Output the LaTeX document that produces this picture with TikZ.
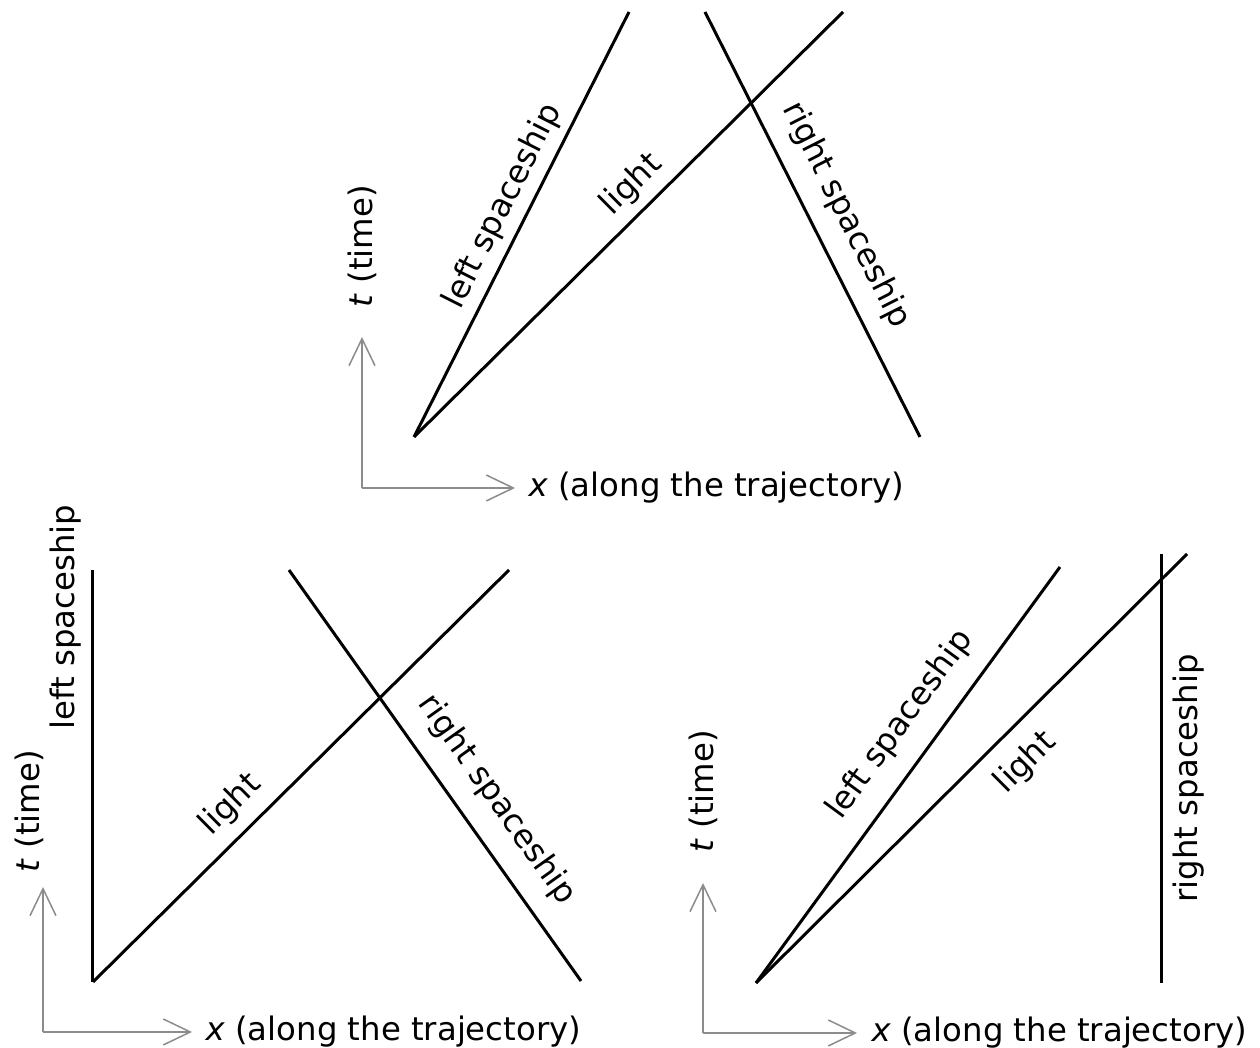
\documentclass[tikz,border=0pt]{standalone}
\usepackage{fontspec}
\setmainfont{DejaVu Sans}
\usetikzlibrary{arrows.meta, positioning, calc}

\begin{document}
\begin{tikzpicture}[
  font=\fontsize{9.2}{11}\selectfont,
  axis/.style={draw=black!45, line width=0.015cm, -{Straight Barb[length=0.27cm, width=0.26cm]}},
  wline/.style={line width=0.03cm},
  lbl/.style={sloped, inner sep=#1},
  axlabel/.style={inner sep=0pt}
]
\path[use as bounding box, fill=white] (0,0) rectangle (12.6,10.48);

% Top: both spaceships moving
\coordinate (oA) at (3.62,5.60);
\coordinate (tA) at (3.62,7.11);
\coordinate (xA) at (5.15,5.60);
\coordinate (vA) at (4.14,6.11);
\coordinate (lsA) at (6.29,10.36);
\coordinate (ltA) at (8.43,10.36);
\coordinate (rsA1) at (7.05,10.36);
\coordinate (rsA2) at (9.20,6.11);
\draw[axis] (oA) -- (tA);
\draw[axis] (oA) -- (xA);
\node[axlabel, rotate=90, anchor=west] (tlabA) at ($(tA)+(0,0.29)$) {\textit{t} (time)};
\node[axlabel, right=0.13cm of xA] (xlabA) {\textit{x} (along the trajectory)};
\draw[wline] (vA) -- (lsA) node[lbl=0.08cm, above, pos=0.517] (lsAlab) {left spaceship};
\draw[wline] (vA) -- (ltA) node[lbl=0.09cm, above, pos=0.55] (ltAlab) {light};
\draw[wline] (rsA1) -- (rsA2) node[lbl=0.17cm, above, pos=0.514] (rsAlab) {right spaceship};

% Bottom left: left spaceship at rest
\coordinate (oB) at (0.43,0.16);
\coordinate (tB) at (0.43,1.61);
\coordinate (xB) at (1.92,0.16);
\coordinate (vB) at (0.93,0.66);
\coordinate (lsB) at (0.93,4.78);
\coordinate (ltB) at (5.09,4.78);
\coordinate (rsB1) at (2.89,4.78);
\coordinate (rsB2) at (5.81,0.67);
\draw[axis] (oB) -- (tB);
\draw[axis] (oB) -- (xB);
\node[axlabel, rotate=90, anchor=west] (tlabB) at ($(tB)+(-0.14,0.14)$) {\textit{t} (time)};
\node[axlabel, right=0.13cm of xB] (xlabB) {\textit{x} (along the trajectory)};
\draw[wline] (vB) -- (lsB) node[lbl=0.10cm, above, pos=0.886] (lsBlab) {left spaceship};
\draw[wline] (vB) -- (ltB) node[lbl=0.12cm, above, pos=0.38] (ltBlab) {light};
\draw[wline] (rsB1) -- (rsB2) node[lbl=0.19cm, above, pos=0.61] (rsBlab) {right spaceship};

% Bottom right: right spaceship at rest
\coordinate (oC) at (7.03,0.15);
\coordinate (tC) at (7.03,1.65);
\coordinate (xC) at (8.57,0.15);
\coordinate (vC) at (7.56,0.65);
\coordinate (lsC) at (10.60,4.81);
\coordinate (ltC) at (11.87,4.94);
\coordinate (rsC1) at (11.62,0.65);
\coordinate (rsC2) at (11.62,4.94);
\draw[axis] (oC) -- (tC);
\draw[axis] (oC) -- (xC);
\node[axlabel, rotate=90, anchor=west] (tlabC) at ($(tC)+(0,0.30)$) {\textit{t} (time)};
\node[axlabel, right=0.14cm of xC] (xlabC) {\textit{x} (along the trajectory)};
\draw[wline] (vC) -- (lsC) node[lbl=0.19cm, above, pos=0.57] (lsClab) {left spaceship};
\draw[wline] (vC) -- (ltC) node[lbl=0.17cm, below, pos=0.57] (ltClab) {light};
\draw[wline] (rsC1) -- (rsC2) node[lbl=0.09cm, below, pos=0.477] (rsClab) {right spaceship};
\end{tikzpicture}
\end{document}
